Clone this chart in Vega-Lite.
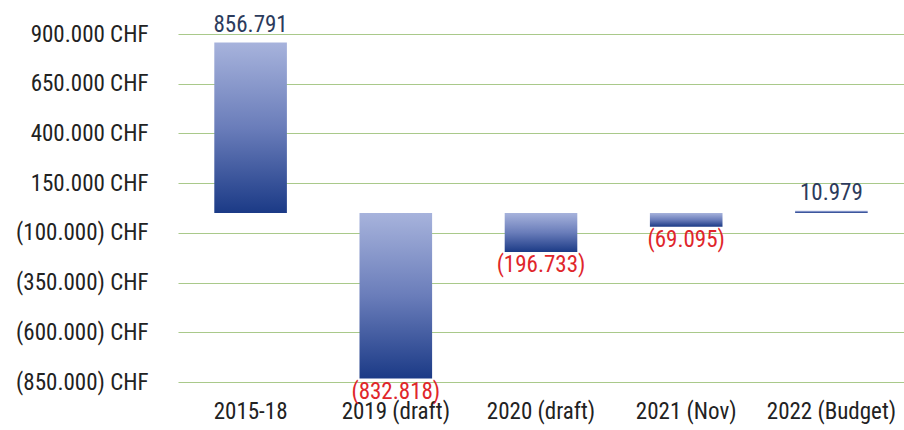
{
  "$schema": "https://vega.github.io/schema/vega-lite/v6.json",
  "width": 726,
  "height": 348,
  "autosize": {"type": "none"},
  "padding": {"left": 178, "top": 34, "right": 0, "bottom": 48},
  "background": "white",
  "config": {
    "view": {"stroke": null},
    "font": "Liberation Sans Narrow, Roboto Condensed, Roboto, sans-serif"
  },
  "data": {
    "values": [
      {"period": "2015-18", "value": 856791},
      {"period": "2019 (draft)", "value": -832818},
      {"period": "2020 (draft)", "value": -196733},
      {"period": "2021 (Nov)", "value": -69095},
      {"period": "2022 (Budget)", "value": 10979}
    ]
  },
  "transform": [
    {"calculate": "datum.value < 0 ? '(' + replace(format(-datum.value, ','), ',', '.') + ')' : replace(format(datum.value, ','), ',', '.')", "as": "label"}
  ],
  "encoding": {
    "x": {
      "field": "period", "type": "nominal", "sort": null,
      "scale": {"paddingInner": 0.5, "paddingOuter": 0.25},
      "axis": {"title": null, "labelAngle": 0, "domain": false, "ticks": false, "labelPadding": 18, "labelFontSize": 23, "labelColor": "#222222", "labelFont": "Liberation Sans Narrow, Roboto Condensed, Roboto, sans-serif"}
    }
  },
  "layer": [
    {
      "mark": {
        "type": "bar",
        "color": {"gradient": "linear", "x1": 0, "y1": 0, "x2": 0, "y2": 1,
          "stops": [{"offset": 0, "color": "#a7b3dc"}, {"offset": 0.5, "color": "#6a7dba"}, {"offset": 1, "color": "#1b3a86"}]}
      },
      "encoding": {
        "y": {
          "field": "value", "type": "quantitative",
          "scale": {"domain": [-850000, 900000], "nice": false, "zero": false},
          "axis": {
            "title": null, "domain": false, "ticks": false,
            "values": [900000, 650000, 400000, 150000, -100000, -350000, -600000, -850000],
            "labelExpr": "datum.value < 0 ? '(' + replace(format(-datum.value, ','), ',', '.') + ') CHF' : replace(format(datum.value, ','), ',', '.') + ' CHF'",
            "labelPadding": 30, "labelFontSize": 23, "labelColor": "#222222",
            "labelFont": "Liberation Sans Narrow, Roboto Condensed, Roboto, sans-serif",
            "gridColor": "#a9c98a", "gridWidth": 1.2
          }
        },
        "y2": {"datum": 0}
      }
    },
    {
      "transform": [{"filter": "datum.value >= 0"}],
      "mark": {"type": "text", "baseline": "bottom", "dy": -6, "fontSize": 23, "color": "#2c3b5c", "clip": false},
      "encoding": {
        "y": {"field": "value", "type": "quantitative"},
        "text": {"field": "label"}
      }
    },
    {
      "transform": [{"filter": "datum.value < 0"}],
      "mark": {"type": "text", "baseline": "top", "dy": 2, "fontSize": 23, "color": "#e0262b", "clip": false},
      "encoding": {
        "y": {"field": "value", "type": "quantitative"},
        "text": {"field": "label"}
      }
    }
  ]
}
